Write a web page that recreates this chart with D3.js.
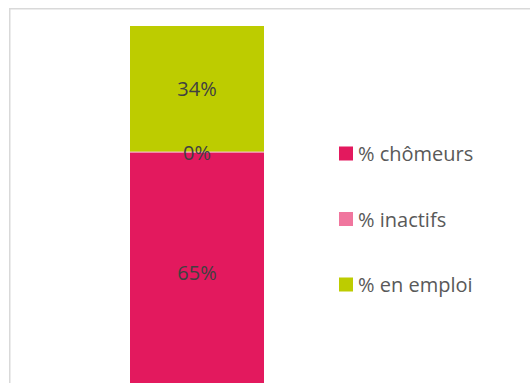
<!DOCTYPE html>
<html><head><meta charset="utf-8">
<script src="https://cdn.jsdelivr.net/npm/d3@7"></script>
<style>html,body{margin:0;padding:0;background:#fff;}svg{display:block;}</style>
</head><body>
<script>
const categories = ["Ensemble"];
const seriesNames = ["% chômeurs", "% inactifs", "% en emploi"];
const chomeurs = [65.4];
const inactifs = [0.3];
const emploi = [34.3];
const labels = {"% chômeurs": ["65%"], "% inactifs": ["0%"], "% en emploi": ["34%"]};
const colors = ["#E3195E", "#F0769E", "#BDCC00"];

const W = 530, H = 383;
const svg = d3.select("body").append("svg").attr("width", W).attr("height", H);

// chart frame (cropped)
svg.append("rect").attr("x", 9.75).attr("y", 8.75).attr("width", 600).attr("height", 500)
  .attr("fill", "none").attr("stroke", "#d9d9d9").attr("stroke-width", 1.5);
// title descender peeking in at the top
svg.append("text").attr("x", 389).attr("y", -8).attr("font-family", "Open Sans")
  .attr("font-size", 20).attr("font-weight", "bold").attr("font-style", "italic")
  .attr("fill", "#404040").text("y");

const data = categories.map((c, i) => ({cat: c, "% chômeurs": chomeurs[i], "% inactifs": inactifs[i], "% en emploi": emploi[i]}));
const stack = d3.stack().keys(seriesNames)(data);

const x = d3.scaleBand().domain(categories).range([130, 264]).padding(0);
const y = d3.scaleLinear().domain([0, 100]).range([392, 26]);
const color = d3.scaleOrdinal().domain(seriesNames).range(colors);

const g = svg.append("g");
stack.forEach(layer => {
  g.selectAll(null).data(layer).enter().append("rect")
    .attr("x", d => x(d.data.cat)).attr("width", x.bandwidth())
    .attr("y", d => y(d[1])).attr("height", d => y(d[0]) - y(d[1]))
    .attr("fill", color(layer.key));
});
stack.forEach(layer => {
  g.selectAll(null).data(layer).enter().append("text")
    .attr("x", d => x(d.data.cat) + x.bandwidth() / 2)
    .attr("y", d => (y(d[0]) + y(d[1])) / 2)
    .attr("text-anchor", "middle").attr("dominant-baseline", "central")
    .attr("font-family", "Open Sans").attr("font-size", 20).attr("fill", "#404040")
    .text((d, i) => labels[layer.key][i]);
});

// legend
const leg = svg.append("g");
const legY = d3.scalePoint().domain(seriesNames).range([153.5, 284.5]);
seriesNames.forEach(s => {
  const row = leg.append("g").attr("transform", `translate(339,${legY(s)})`);
  row.append("rect").attr("x", 0).attr("y", -7).attr("width", 14).attr("height", 14).attr("fill", color(s));
  row.append("text").attr("x", 19).attr("y", 0).attr("dominant-baseline", "central")
    .attr("font-family", "Open Sans").attr("font-size", 20).attr("fill", "#595959").text(s);
});
</script>
</body></html>
